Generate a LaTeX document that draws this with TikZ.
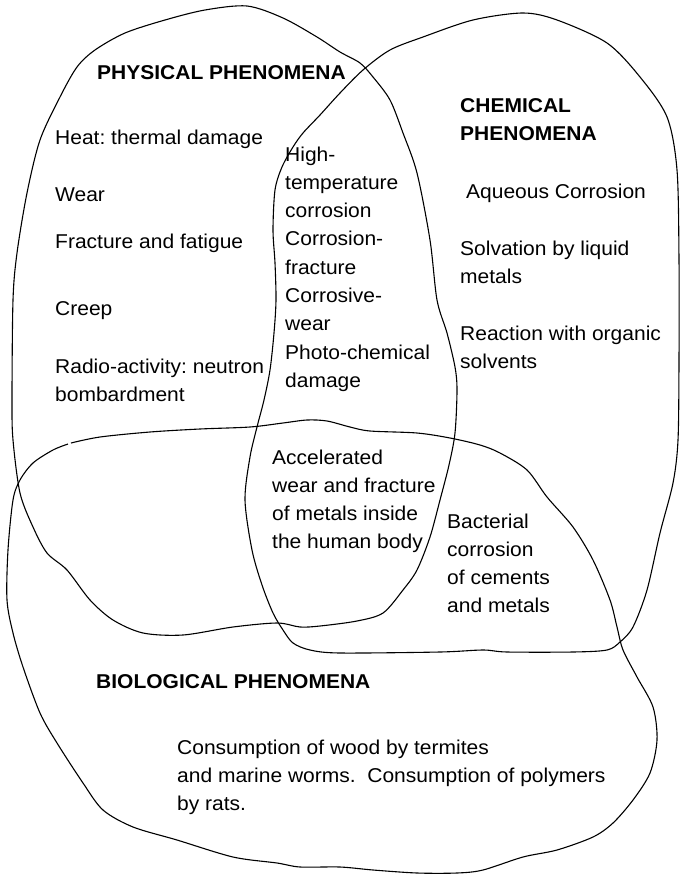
\documentclass[tikz,border=0pt]{standalone}
\usepackage{fontspec}
\setmainfont{Liberation Sans}[FakeStretch=1.05]
\newcommand{\mlines}[1]{\begin{tabular}[t]{@{}l@{}}#1\end{tabular}}
\frenchspacing
\begin{document}
\begin{tikzpicture}[x=1pt,y=-1pt,
  curve/.style={line width=1.1pt,black},
  txt/.style={font=\fontsize{20}{28.3}\selectfont,inner sep=0pt,anchor=base west},
  head/.style={txt,font=\fontsize{20}{28.3}\selectfont\bfseries}]
\useasboundingbox (0,0) rectangle (680,875);
% physical
\draw[curve] plot[smooth cycle,tension=0.5] coordinates {
(247,6) (283,18) (317,37) (340,52) (360,63) (373,77) (390,100) (403,133) (417,173) (430,240) (437,300) (447,333) (455,367) (457,390) (455,433) (449,465) (440,500) (430,537) (417,570) (403,590) (383,613) (357,621) (320,626) (300,627) (277,623) (233,627) (183,635) (143,633) (113,620) (90,600) (67,570) (47,553) (33,527) (20,493) (13,440) (12,400) (13,300) (17,253) (27,193) (40,140) (60,97) (77,67) (95,50) (125,33) (165,20) (205,10)};
% chemical
\draw[curve] plot[smooth cycle,tension=0.5] coordinates {
(273,230) (275,190) (282,167) (293,147) (303,133) (320,115) (340,93) (363,70) (390,50) (423,37) (473,20) (523,13) (557,20) (607,43) (640,77) (667,117) (677,170) (679,260) (679,360) (678,440) (673,483) (660,533) (647,590) (633,627) (620,642) (607,650) (573,652) (507,652) (483,650) (440,652) (340,653) (310,650) (293,643) (283,630) (273,613) (262,585) (252,550) (245,500) (250,457) (257,427) (264,400) (270,370) (274,333) (276,300) (275,263)};
% biological
\draw[curve] plot[smooth,tension=0.5] coordinates {
(71,443) (100,437) (150,432) (200,429) (250,427) (283,423) (307,420) (327,421) (350,427) (370,431) (417,433) (450,438) (480,445) (500,453) (527,470) (547,497) (573,527) (593,560) (610,600) (617,627) (623,650) (637,677) (653,707) (657,740) (650,773) (633,800) (613,823) (593,837) (557,850) (523,857) (483,870) (457,873) (417,873) (373,870) (340,867) (300,867) (277,863) (233,857) (177,840) (133,827) (103,810) (83,783) (57,743) (40,713) (23,667) (13,633) (7,600) (8,550) (13,500) (20,480) (33,463) (53,450) (68,444)};
% texts
\node[head] (phys) at (97,80) {PHYSICAL PHENOMENA};
\node[txt] (heat) at (55,144) {Heat: thermal damage};
\node[txt] (wear) at (55,201) {Wear};
\node[txt] (frac) at (55,248) {Fracture and fatigue};
\node[txt] (creep) at (55,315) {Creep};
\node[txt] (radio) at (55,373) {\mlines{Radio-activity: neutron\\bombardment}};
\node[txt] (mid) at (285,161) {\mlines{High-\\temperature\\corrosion\\Corrosion-\\fracture\\Corrosive-\\wear\\Photo-chemical\\damage}};
\node[head] (chem) at (460,112) {\mlines{CHEMICAL\\PHENOMENA}};
\node[txt] (aq) at (466,198) {Aqueous Corrosion};
\node[txt] (solv) at (460,255) {\mlines{Solvation by liquid\\metals}};
\node[txt] (react) at (460,340) {\mlines{Reaction with organic\\solvents}};
\node[txt] (accel) at (272,464) {\mlines{Accelerated\\wear and fracture\\of metals inside\\the human body}};
\node[txt] (bact) at (447,528) {\mlines{Bacterial\\corrosion\\of cements\\and metals}};
\node[head] (bio) at (96,688) {BIOLOGICAL PHENOMENA};
\node[txt] (cons) at (177,754) {\mlines{Consumption of wood by termites\\and marine worms.\ \ Consumption of polymers\\by rats.}};
\end{tikzpicture}
\end{document}
